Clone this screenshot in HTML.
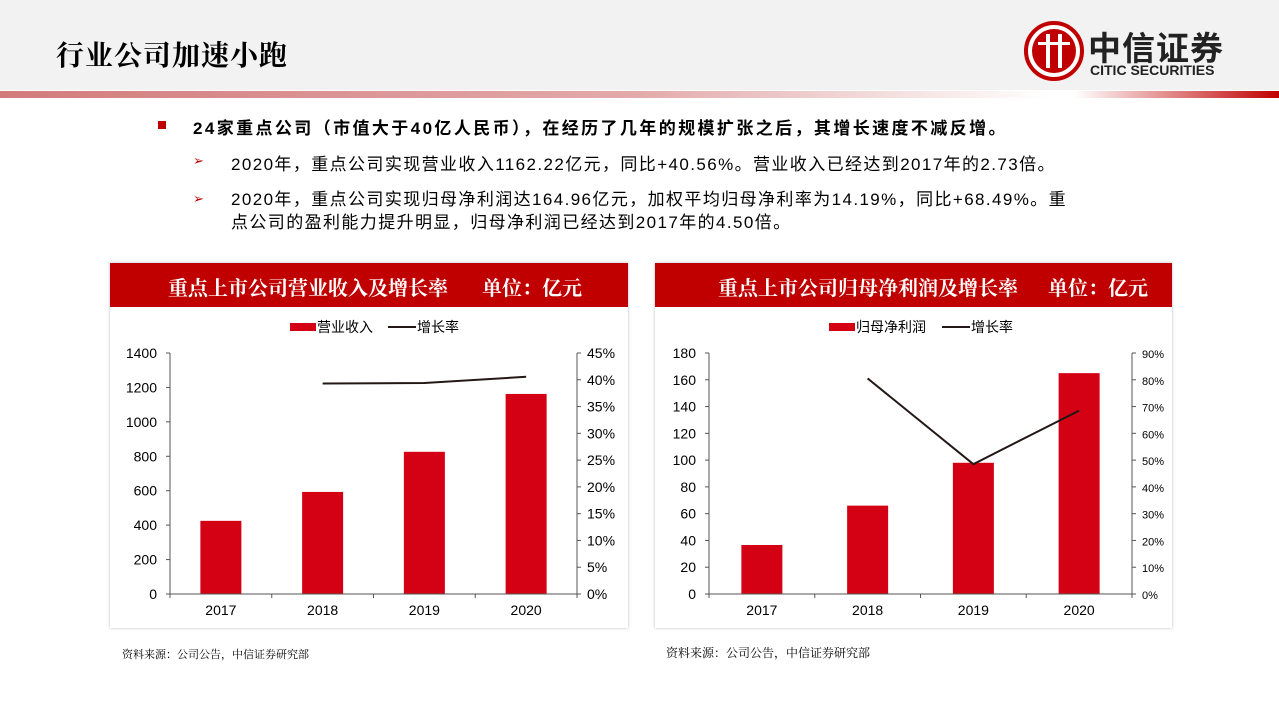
<!DOCTYPE html>
<html><head><meta charset="utf-8">
<style>
body{margin:0;width:1279px;height:719px;background:#fff;position:relative;overflow:hidden;font-family:"Liberation Sans","Noto Sans CJK SC",sans-serif;}
.abs{position:absolute;}
.hdr{left:0;top:0;width:1279px;height:90px;background:#f2f2f2;}
.title{left:56px;top:34px;font-size:28px;color:#000;font-family:"Noto Serif CJK SC","Noto Sans CJK SC",serif;font-weight:bold;letter-spacing:1px;}
.grad{left:0;top:91px;width:1279px;height:7px;background:linear-gradient(90deg,#d27b7b 0%,#e3aaaa 50%,#fff 82%,#fff 84%,#e08080 92%,#c00000 100%);}
.txt{font-size:17px;color:#000;}
.card{background:#fff;box-shadow:0 0 3px #bbb;}
.chead{background:#c00000;color:#fff;font-weight:bold;font-size:20px;font-family:"Noto Serif CJK SC","Noto Sans CJK SC",serif;}
.src{font-size:12px;color:#000;font-family:"Noto Serif CJK SC","Noto Sans CJK SC",serif;}
</style></head><body>
<div class="abs hdr"></div>
<div class="abs title">行业公司加速小跑</div>
<div class="abs" style="left:1024px;top:20px;width:220px;height:62px;">
 <svg width="62" height="62" style="position:absolute;left:0;top:0"><circle cx="30" cy="31" r="28" fill="#fff" stroke="#c00000" stroke-width="4"/><circle cx="30" cy="31" r="22" fill="#c00000"/><rect x="22" y="14" width="4" height="34" fill="#fff"/><rect x="34" y="14" width="4" height="34" fill="#fff"/><rect x="14" y="22" width="32" height="3" fill="#fff"/></svg>
 <div style="position:absolute;left:64px;top:2px;font-size:33px;font-weight:bold;color:#222;letter-spacing:1px;">中信证券</div>
 <div style="position:absolute;left:66px;top:42px;font-size:14px;font-weight:bold;color:#222;">CITIC SECURITIES</div>
</div>
<div class="abs grad"></div>

<div class="abs" style="left:158px;top:121px;width:8px;height:8px;background:#c00000"></div>
<div class="abs txt" style="left:193px;top:114px;font-weight:bold;letter-spacing:2.4px">24家重点公司（市值大于40亿人民币），在经历了几年的规模扩张之后，其增长速度不减反增。</div>
<div class="abs txt" style="left:193px;top:153px;color:#c00000;font-size:13px">➢</div>
<div class="abs txt" style="left:231px;top:150px;letter-spacing:1.4px">2020年，重点公司实现营业收入1162.22亿元，同比+40.56%。营业收入已经达到2017年的2.73倍。</div>
<div class="abs txt" style="left:193px;top:191px;color:#c00000;font-size:13px">➢</div>
<div class="abs txt" style="left:231px;top:188px;line-height:23px;width:950px;letter-spacing:1.4px;white-space:nowrap">2020年，重点公司实现归母净利润达164.96亿元，加权平均归母净利率为14.19%，同比+68.49%。重<br>点公司的盈利能力提升明显，归母净利润已经达到2017年的4.50倍。</div>

<div class="abs card" style="left:110px;top:263px;width:518px;height:365px"></div>
<div class="abs chead" style="left:110px;top:263px;width:518px;height:44px;line-height:48px;"><span style="margin-left:58px">重点上市公司营业收入及增长率</span><span style="margin-left:34px">单位：亿元</span></div>
<div class="abs card" style="left:655px;top:263px;width:517px;height:365px"></div>
<div class="abs chead" style="left:655px;top:263px;width:517px;height:44px;line-height:48px;"><span style="margin-left:63px">重点上市公司归母净利润及增长率</span><span style="margin-left:30px">单位：亿元</span></div>

<svg class="abs" id="svg" style="left:0;top:0" width="1279" height="719"></svg>

<div class="abs src" style="left:122px;top:646px;font-size:11px">资料来源：公司公告，中信证券研究部</div>
<div class="abs src" style="left:666px;top:644px">资料来源：公司公告，中信证券研究部</div>

<script>
const categories=["2017","2018","2019","2020"];
const revenue=[425,593,826,1162.22];
const revenueGrowth=[null,39.3,39.4,40.56];
const revTicks=[0,200,400,600,800,1000,1200,1400];
const revPctTicks=[0,5,10,15,20,25,30,35,40,45];
const profit=[36.6,66,98,164.96];
const profitGrowth=[null,80.5,48.5,68.49];
const profTicks=[0,20,40,60,80,100,120,140,160,180];
const profPctTicks=[0,10,20,30,40,50,60,70,80,90];

const svg=document.getElementById('svg');
const NS='http://www.w3.org/2000/svg';
function el(t,a,p){const e=document.createElementNS(NS,t);for(const k in a)e.setAttribute(k,a[k]);(p||svg).appendChild(e);return e;}

function chart(o){
 const top=353,bot=594,L=o.L,R=o.R;
 const y=v=>bot-(v/o.ymax)*(bot-top);
 const y2=v=>bot-(v/o.pmax)*(bot-top);
 const cw=(R-L)/o.cats.length;
 const x=i=>L+cw*(i+0.5);
 const g=el('g',{});
 
 
 o.vals.forEach((v,i)=>{
  const r=el('rect',{x:x(i)-20.5,y:y(v),width:41,height:bot-y(v),fill:'#d40014'},g);
  
  
 });
 el('line',{x1:L,y1:top,x2:L,y2:bot,stroke:'#555'},g);
 el('line',{x1:R,y1:top,x2:R,y2:bot,stroke:'#555'},g);
 el('line',{x1:L,y1:bot,x2:R,y2:bot,stroke:'#555'},g);
 o.ticks.forEach(t=>{
  el('line',{x1:L-4,y1:y(t),x2:L,y2:y(t),stroke:'#555'},g);
  const tx=el('text',{x:L-13,y:y(t)+5,'text-anchor':'end','font-size':14,fill:'#000'},g);tx.textContent=t;
  
  
 });
 o.pticks.forEach(t=>{
  el('line',{x1:R,y1:y2(t),x2:R+4,y2:y2(t),stroke:'#555'},g);
  const tx=el('text',{x:R+o.poff,y:y2(t)+5,'font-size':o.pfs,fill:'#000'},g);tx.textContent=t+'%';
  
  
 });
 for(let i=0;i<=o.cats.length;i++)el('line',{x1:L+cw*i,y1:bot,x2:L+cw*i,y2:bot+4,stroke:'#555'},g);
 o.cats.forEach((c,i)=>{const tx=el('text',{x:x(i),y:bot+21,'text-anchor':'middle','font-size':14,fill:'#000'},g);tx.textContent=c;
  
  });
 const pts=[];o.growth.forEach((v,i)=>{if(v!=null)pts.push(x(i)+','+y2(v));});
 const pl=el('polyline',{points:pts.join(' '),fill:'none',stroke:'#231815','stroke-width':2},g);
 
 
 const lg=el('g',{},g);
 
 
 el('rect',{x:o.lx,y:323,width:26,height:8,fill:'#d40014'},lg);
 const t1=el('text',{x:o.lx+27,y:332,'font-size':14,fill:'#000'},lg);t1.textContent=o.lname;
 el('line',{x1:o.lx2,y1:327,x2:o.lx2+28,y2:327,stroke:'#231815','stroke-width':2},lg);
 const t2=el('text',{x:o.lx2+29,y:332,'font-size':14,fill:'#000'},lg);t2.textContent='增长率';
}
chart({name:'revenue-chart',L:170,R:577,ymax:1400,pmax:45,cats:categories,vals:revenue,growth:revenueGrowth,ticks:revTicks,pticks:revPctTicks,poff:10,pfs:14,lx:290,lx2:388,lname:'营业收入'});
chart({name:'profit-chart',L:709,R:1132,ymax:180,pmax:90,cats:categories,vals:profit,growth:profitGrowth,ticks:profTicks,pticks:profPctTicks,poff:10,pfs:11,lx:829,lx2:942,lname:'归母净利润'});
</script>
</body></html>
